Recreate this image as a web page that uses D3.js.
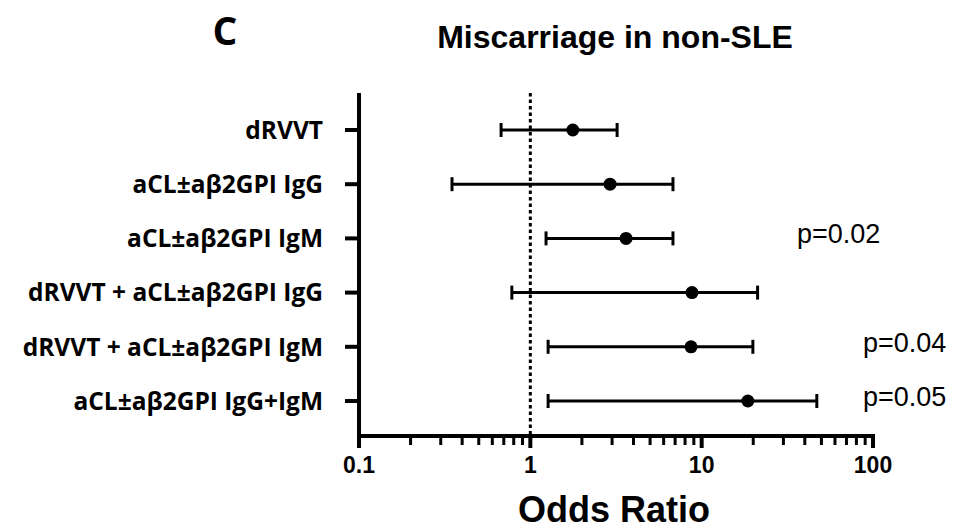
<!DOCTYPE html>
<html><head><meta charset="utf-8">
<script src="https://cdn.jsdelivr.net/npm/d3@7"></script>
<style>html,body{margin:0;padding:0;background:#fff;}svg{display:block;}</style>
</head><body>
<script>
const categories = ["dRVVT","aCL±aβ2GPI IgG","aCL±aβ2GPI IgM","dRVVT + aCL±aβ2GPI IgG","dRVVT + aCL±aβ2GPI IgM","aCL±aβ2GPI IgG+IgM"];
const oddsRatio = [1.77, 2.92, 3.62, 8.78, 8.67, 18.6];
const ciLow = [0.675, 0.349, 1.235, 0.78, 1.27, 1.27];
const ciHigh = [3.21, 6.8, 6.8, 21.2, 19.9, 47];
const pLabels = ["", "", "p=0.02", "", "p=0.04", "p=0.05"];
const xTicks = [0.1, 1, 10, 100];
const xTickLabels = ["0.1", "1", "10", "100"];
const title = "Miscarriage in non-SLE";
const panel = "C";
const xTitle = "Odds Ratio";

const W = 959, H = 529;
const svg = d3.select("body").append("svg").attr("width", W).attr("height", H);
const x = d3.scaleLog().domain([0.1, 100]).range([359, 873]);
const y = d3.scalePoint().domain(categories).range([130, 401]);
const axisY = 436, topY = 93;
const sans = "'Liberation Sans', Arial, sans-serif";
const labelFont = "'Open Sans', sans-serif";

// panel letter and title
svg.append("text").attr("x", 225).attr("y", 45).attr("text-anchor", "middle")
  .attr("font-family", labelFont).attr("font-weight", 700).attr("font-size", 39).text(panel);
svg.append("text").attr("x", 615).attr("y", 48).attr("text-anchor", "middle")
  .attr("font-family", sans).attr("font-weight", 700).attr("font-size", 32).text(title);

// reference line at OR=1
svg.append("line").attr("x1", x(1)).attr("x2", x(1)).attr("y1", topY).attr("y2", axisY)
  .attr("stroke", "#000").attr("stroke-width", 3).attr("stroke-dasharray", "3.5,3");

// y axis
svg.append("line").attr("x1", 359).attr("x2", 359).attr("y1", topY).attr("y2", axisY + 2)
  .attr("stroke", "#000").attr("stroke-width", 4);
svg.selectAll(".ytick").data(categories).join("line")
  .attr("x1", 345).attr("x2", 359).attr("y1", d => y(d)).attr("y2", d => y(d))
  .attr("stroke", "#000").attr("stroke-width", 4);
svg.selectAll(".ylab").data(categories).join("text")
  .attr("x", 323).attr("y", d => y(d)).attr("dy", "0.36em").attr("text-anchor", "end")
  .attr("font-family", labelFont).attr("font-weight", 700).attr("font-size", 24.5)
  .text(d => d);

// x axis
svg.append("line").attr("x1", 357).attr("x2", 875).attr("y1", axisY).attr("y2", axisY)
  .attr("stroke", "#000").attr("stroke-width", 4);
const minor = [];
for (const dec of [0.1, 1, 10]) for (let k = 2; k <= 9; k++) minor.push(+(dec * k).toPrecision(3));
svg.selectAll(".minor").data(minor).join("line")
  .attr("x1", d => x(d)).attr("x2", d => x(d)).attr("y1", axisY).attr("y2", 445)
  .attr("stroke", "#000").attr("stroke-width", 3);
svg.selectAll(".major").data(xTicks).join("line")
  .attr("x1", d => x(d)).attr("x2", d => x(d)).attr("y1", axisY).attr("y2", 448)
  .attr("stroke", "#000").attr("stroke-width", 4);
svg.selectAll(".xlab").data(xTicks).join("text")
  .attr("x", d => x(d)).attr("y", 473).attr("text-anchor", "middle")
  .attr("font-family", sans).attr("font-weight", 700).attr("font-size", 23)
  .text((d, i) => xTickLabels[i]);
svg.append("text").attr("x", 614).attr("y", 522).attr("text-anchor", "middle")
  .attr("font-family", sans).attr("font-weight", 700).attr("font-size", 36).text(xTitle);

// error bars and points
const rows = categories.map((c, i) => ({c, or: oddsRatio[i], lo: ciLow[i], hi: ciHigh[i], p: pLabels[i], i}));
const g = svg.append("g");
g.selectAll(".ci").data(rows).join("line")
  .attr("x1", d => x(d.lo)).attr("x2", d => x(d.hi)).attr("y1", d => y(d.c)).attr("y2", d => y(d.c))
  .attr("stroke", "#000").attr("stroke-width", 3);
g.selectAll(".capL").data(rows).join("line")
  .attr("x1", d => x(d.lo)).attr("x2", d => x(d.lo)).attr("y1", d => y(d.c) - 7).attr("y2", d => y(d.c) + 7)
  .attr("stroke", "#000").attr("stroke-width", 3);
g.selectAll(".capR").data(rows).join("line")
  .attr("x1", d => x(d.hi)).attr("x2", d => x(d.hi)).attr("y1", d => y(d.c) - 7).attr("y2", d => y(d.c) + 7)
  .attr("stroke", "#000").attr("stroke-width", 3);
g.selectAll(".pt").data(rows).join("circle")
  .attr("cx", d => x(d.or)).attr("cy", d => y(d.c)).attr("r", 6.5).attr("fill", "#000");

// p-values
const pX = {2: 797, 4: 863, 5: 863};
svg.selectAll(".pval").data(rows.filter(d => d.p)).join("text")
  .attr("x", d => pX[d.i]).attr("y", d => y(d.c) + 5)
  .attr("font-family", sans).attr("font-size", 27).text(d => d.p);
</script>
</body></html>
